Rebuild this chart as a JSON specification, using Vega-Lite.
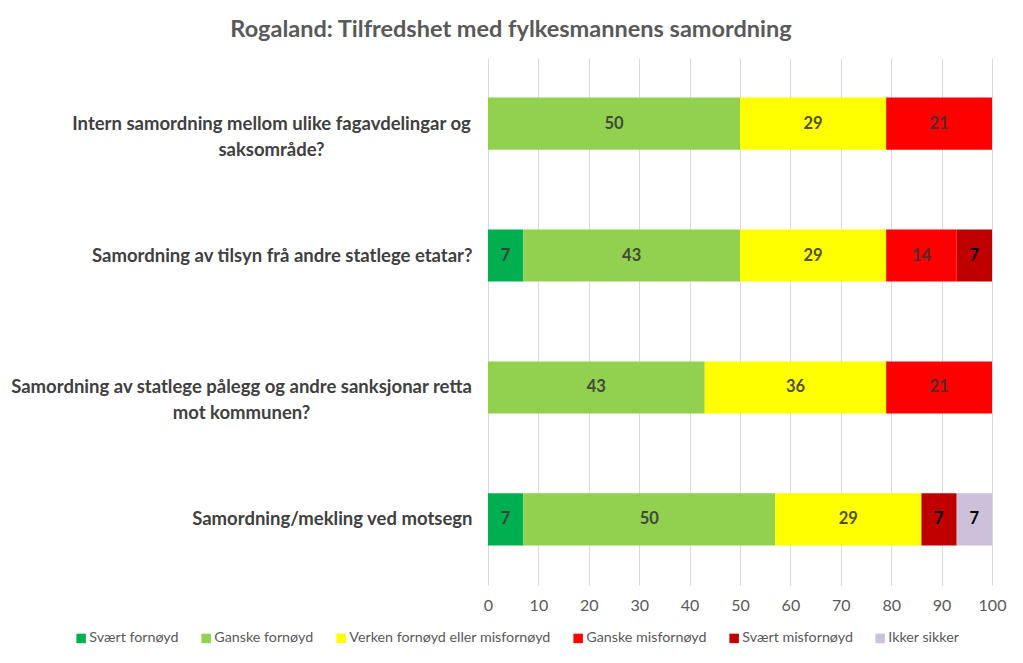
{
  "$schema": "https://vega.github.io/schema/vega-lite/v6.json",
  "width": 504,
  "height": 527,
  "autosize": {"type": "none"},
  "padding": {"left": 488, "top": 58, "right": 31, "bottom": 78},
  "background": "white",
  "config": {"view": {"stroke": null}, "font": "Lato"},
  "title": {
    "text": "Rogaland: Tilfredshet med fylkesmannens samordning",
    "fontSize": 23.5,
    "fontWeight": "bold",
    "color": "#595959",
    "anchor": "middle",
    "dx": -229,
    "offset": 17,
    "font": "Lato"
  },
  "data": {
    "values": [
      {"q": "Intern samordning mellom ulike fagavdelingar og saksområde?", "c": "Ganske fornøyd", "k": 2, "v": 50},
      {"q": "Intern samordning mellom ulike fagavdelingar og saksområde?", "c": "Verken fornøyd eller misfornøyd", "k": 3, "v": 29},
      {"q": "Intern samordning mellom ulike fagavdelingar og saksområde?", "c": "Ganske misfornøyd", "k": 4, "v": 21},
      {"q": "Samordning av tilsyn frå andre statlege etatar?", "c": "Svært fornøyd", "k": 1, "v": 7},
      {"q": "Samordning av tilsyn frå andre statlege etatar?", "c": "Ganske fornøyd", "k": 2, "v": 43},
      {"q": "Samordning av tilsyn frå andre statlege etatar?", "c": "Verken fornøyd eller misfornøyd", "k": 3, "v": 29},
      {"q": "Samordning av tilsyn frå andre statlege etatar?", "c": "Ganske misfornøyd", "k": 4, "v": 14},
      {"q": "Samordning av tilsyn frå andre statlege etatar?", "c": "Svært misfornøyd", "k": 5, "v": 7},
      {"q": "Samordning av statlege pålegg og andre sanksjonar retta mot kommunen?", "c": "Ganske fornøyd", "k": 2, "v": 43},
      {"q": "Samordning av statlege pålegg og andre sanksjonar retta mot kommunen?", "c": "Verken fornøyd eller misfornøyd", "k": 3, "v": 36},
      {"q": "Samordning av statlege pålegg og andre sanksjonar retta mot kommunen?", "c": "Ganske misfornøyd", "k": 4, "v": 21},
      {"q": "Samordning/mekling ved motsegn", "c": "Svært fornøyd", "k": 1, "v": 7},
      {"q": "Samordning/mekling ved motsegn", "c": "Ganske fornøyd", "k": 2, "v": 50},
      {"q": "Samordning/mekling ved motsegn", "c": "Verken fornøyd eller misfornøyd", "k": 3, "v": 29},
      {"q": "Samordning/mekling ved motsegn", "c": "Svært misfornøyd", "k": 5, "v": 7},
      {"q": "Samordning/mekling ved motsegn", "c": "Ikker sikker", "k": 6, "v": 7}
    ]
  },
  "encoding": {
    "y": {
      "field": "q",
      "type": "nominal",
      "sort": [
        "Intern samordning mellom ulike fagavdelingar og saksområde?",
        "Samordning av tilsyn frå andre statlege etatar?",
        "Samordning av statlege pålegg og andre sanksjonar retta mot kommunen?",
        "Samordning/mekling ved motsegn"
      ],
      "scale": {"paddingInner": 0.605, "paddingOuter": 0.3},
      "axis": {
        "title": null,
        "domain": false,
        "ticks": false,
        "labelAlign": {
          "condition": {"test": "datum.value == 'Intern samordning mellom ulike fagavdelingar og saksområde?' || datum.value == 'Samordning av statlege pålegg og andre sanksjonar retta mot kommunen?'", "value": "center"},
          "value": "right"
        },
        "labelPadding": {
          "condition": [
            {"test": "datum.value == 'Intern samordning mellom ulike fagavdelingar og saksområde?'", "value": 217},
            {"test": "datum.value == 'Samordning av statlege pålegg og andre sanksjonar retta mot kommunen?'", "value": 247}
          ],
          "value": 16
        },
        "labelLimit": 700,
        "labelFontSize": 18.5,
        "labelFontWeight": "bold",
        "labelColor": "#404040",
        "labelFont": "Lato",
        "labelLineHeight": 26,
        "labelExpr": "datum.value == 'Intern samordning mellom ulike fagavdelingar og saksområde?' ? ['Intern samordning mellom ulike fagavdelingar og', 'saksområde?'] : datum.value == 'Samordning av statlege pålegg og andre sanksjonar retta mot kommunen?' ? ['Samordning av statlege pålegg og andre sanksjonar retta', 'mot kommunen?'] : datum.value"
      }
    }
  },
  "layer": [
    {
      "mark": {"type": "bar"},
      "encoding": {
        "x": {
          "field": "v",
          "type": "quantitative",
          "stack": "zero",
          "scale": {"domain": [0, 100]},
          "axis": {
            "title": null,
            "grid": true,
            "gridColor": "#D9D9D9",
            "domain": false,
            "ticks": false,
            "values": [0, 10, 20, 30, 40, 50, 60, 70, 80, 90, 100],
            "labelFlush": false,
            "labelPadding": 12,
            "labelFontSize": 16,
            "labelColor": "#595959",
            "labelFont": "Lato"
          }
        },
        "color": {
          "field": "c",
          "type": "nominal",
          "scale": {
            "domain": ["Svært fornøyd", "Ganske fornøyd", "Verken fornøyd eller misfornøyd", "Ganske misfornøyd", "Svært misfornøyd", "Ikker sikker"],
            "range": ["#00B050", "#92D050", "#FFFF00", "#FF0000", "#C00000", "#CCC0DA"]
          },
          "legend": {
            "orient": "none",
            "legendX": -414,
            "legendY": 573,
            "direction": "horizontal",
            "title": null,
            "symbolType": "square",
            "symbolSize": 90,
            "symbolStrokeWidth": 0,
            "labelFontSize": 14.3,
            "labelLimit": 400,
            "labelColor": "#595959",
            "labelFont": "Lato",
            "labelOffset": 1,
            "columnPadding": 20
          }
        },
        "order": {"field": "k"}
      }
    },
    {
      "mark": {"type": "text", "fontWeight": "bold", "fontSize": 16.5, "font": "Lato"},
      "encoding": {
        "x": {"field": "v", "type": "quantitative", "stack": "zero", "bandPosition": 0.5},
        "detail": {"field": "c"},
        "order": {"field": "k"},
        "text": {"field": "v"},
        "color": {
          "condition": {"test": "datum.c == 'Svært misfornøyd' || datum.c == 'Ikker sikker'", "value": "#000000"},
          "value": "#333333"
        },
        "opacity": {
          "condition": {"test": "datum.c == 'Svært misfornøyd' || datum.c == 'Ikker sikker'", "value": 1},
          "value": 0.85
        }
      }
    }
  ]
}
